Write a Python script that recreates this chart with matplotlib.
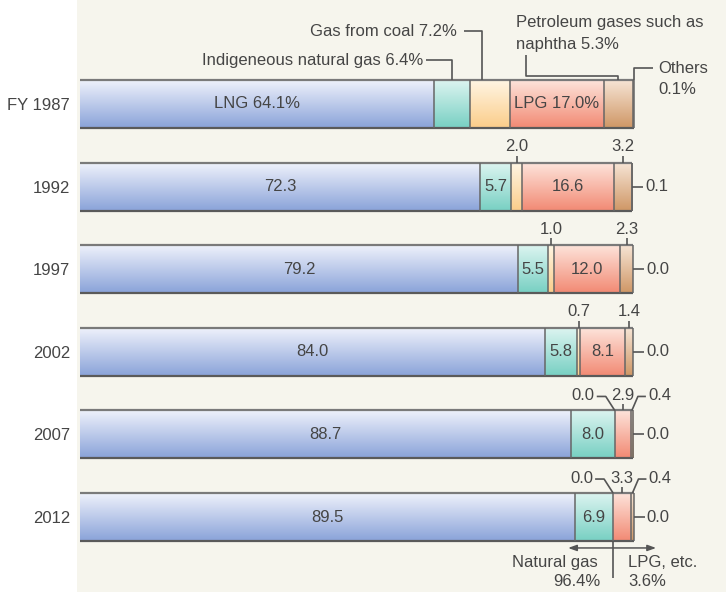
import numpy as np
import matplotlib
matplotlib.use('Agg')
import matplotlib.pyplot as plt
from matplotlib.colors import to_rgba

# ---- data (share of city gas feedstock, %) ----
years = ['FY 1987', '1992', '1997', '2002', '2007', '2012']
lng = [64.1, 72.3, 79.2, 84.0, 88.7, 89.5]
indigenous = [6.4, 5.7, 5.5, 5.8, 8.0, 6.9]
coal_gas = [7.2, 2.0, 1.0, 0.7, 0.0, 0.0]
lpg = [17.0, 16.6, 12.0, 8.1, 2.9, 3.3]
naphtha = [5.3, 3.2, 2.3, 1.4, 0.4, 0.4]
others = [0.1, 0.1, 0.0, 0.0, 0.0, 0.0]

series = [lng, indigenous, coal_gas, lpg, naphtha, others]
# gradient colours (top, bottom) per segment
grad = [('#eef1fb', '#8aa3d9'), ('#dcf4f0', '#78d0c3'), ('#fff5e3', '#fbcd8a'),
        ('#fde3da', '#f28a74'), ('#f6e4d4', '#cf9766'), ('#f0d6c0', '#c9926a')]

plt.rcParams['font.family'] = ['Liberation Sans', 'DejaVu Sans']
TXT = '#454545'
LN = '#555555'
FS = 12

fig = plt.figure(figsize=(7.26, 5.92), dpi=100)
ax = fig.add_axes([77 / 726, 0, 649 / 726, 1])
ax.set_facecolor('#f6f5ed')

H = 0.58
PX = 1 / 5.53    # one pixel in x data units
PY = 1 / 82.6    # one pixel in y data units
y = np.arange(len(years))
data = np.array(series)
cum = np.cumsum(data, axis=0)
left = np.vstack([np.zeros(len(years)), cum[:-1]])
total = cum[-1]


def vgrad(c0, c1, n=64):
    a = np.array(to_rgba(c0))
    b = np.array(to_rgba(c1))
    t = np.linspace(0, 1, n)[:, None]
    return (a * (1 - t) + b * t)[:, None, :]


# bars with vertical gradient
for k, vals in enumerate(series):
    for i, v in enumerate(vals):
        if v <= 0:
            continue
        l0 = left[k, i]
        ax.imshow(vgrad(*grad[k]), extent=(l0, l0 + v, y[i] + H / 2, y[i] - H / 2),
                  aspect='auto', interpolation='bilinear', zorder=2)

# outlines
for i in range(len(years)):
    ax.hlines(y[i] - H / 2, 0, total[i], color='#7a7a7a', lw=1.6, zorder=3)
    ax.hlines(y[i] + H / 2, 0, total[i], color='#5a5a5a', lw=1.6, zorder=3)
    bounds = [cum[k, i] for k in range(len(series)) if data[k, i] > 0]
    ax.vlines(bounds, y[i] - H / 2, y[i] + H / 2, color='#666666', lw=1.1, zorder=3)

kw = dict(color=TXT, fontsize=FS, zorder=5)
lkw = dict(color=LN, lw=1.2, zorder=4, solid_capstyle='butt')

# labels inside the bars
for i in range(len(years)):
    lab = f'LNG {lng[i]:.1f}%' if i == 0 else f'{lng[i]:.1f}'
    ax.text(lng[i] / 2, y[i], lab, ha='center', va='center', **kw)
    if i >= 1:
        ax.text(left[1, i] + indigenous[i] / 2, y[i], f'{indigenous[i]:.1f}',
                ha='center', va='center', **kw)
    if i <= 3:
        lab = f'LPG {lpg[i]:.1f}%' if i == 0 else f'{lpg[i]:.1f}'
        ax.text(left[3, i] + lpg[i] / 2, y[i], lab, ha='center', va='center', **kw)

# FY 1987 callouts
yt = y[0] - H / 2
xi = left[1, 0] + indigenous[0] / 2
yl = yt - 20 * PY
ax.plot([xi, xi, xi - 26 * PX], [yt, yl, yl], **lkw)
ax.text(xi - 29 * PX, yl, f'Indigeneous natural gas {indigenous[0]:.1f}%',
        ha='right', va='center', **kw)

xc = left[2, 0] + coal_gas[0] * 0.3
yl = yt - 49 * PY
ax.plot([xc, xc, xc - 18 * PX], [yt, yl, yl], **lkw)
ax.text(xc - 25 * PX, yl, f'Gas from coal {coal_gas[0]:.1f}%', ha='right', va='center', **kw)

xn = left[4, 0] + naphtha[0] / 2
x2 = xn - 92 * PX
ax.plot([xn, xn, x2, x2], [yt, yt - 4 * PY, yt - 4 * PY, yt - 25 * PY], **lkw)
ax.text(x2 - 10 * PX, yt - 58 * PY, 'Petroleum gases such as', ha='left', va='center', **kw)
ax.text(x2 - 10 * PX, yt - 36 * PY, f'naphtha {naphtha[0]:.1f}%', ha='left', va='center', **kw)

xo = total[0]
ax.plot([xo, xo, xo + 19 * PX], [yt, yt - 12 * PY, yt - 12 * PY], **lkw)
ax.text(xo + 25 * PX, yt - 12 * PY, 'Others', ha='left', va='center', **kw)
ax.text(xo + 25 * PX, yt + 9 * PY, f'{others[0]:.1f}%', ha='left', va='center', **kw)

# other years: small values above and to the right
for i in range(1, len(years)):
    yt = y[i] - H / 2
    if i <= 3:
        for k, vals in ((2, coal_gas), (4, naphtha)):
            xm = left[k, i] + vals[i] / 2
            ax.plot([xm, xm], [yt, yt - 7 * PY], **lkw)
            ax.text(xm, yt - 16 * PY, f'{vals[i]:.1f}', ha='center', va='center', **kw)
    else:
        xc = left[2, i]
        ax.plot([xc, xc - 9 * PX, xc - 18 * PX], [yt, yt - 14 * PY, yt - 14 * PY], **lkw)
        ax.text(xc - 20 * PX, yt - 15 * PY, f'{coal_gas[i]:.1f}', ha='right', va='center', **kw)
        xm = left[3, i] + lpg[i] / 2
        ax.plot([xm, xm], [yt, yt - 6 * PY], **lkw)
        ax.text(xm, yt - 15 * PY, f'{lpg[i]:.1f}', ha='center', va='center', **kw)
        xn = left[4, i] + naphtha[i] / 2
        ax.plot([xn, xn + 6 * PX, xn + 14 * PX], [yt, yt - 14 * PY, yt - 14 * PY], **lkw)
        ax.text(xn + 16 * PX, yt - 15 * PY, f'{naphtha[i]:.1f}', ha='left', va='center', **kw)
    ax.plot([total[i], total[i] + 11 * PX], [y[i], y[i]], **lkw)
    ax.text(total[i] + 13 * PX, y[i], f'{others[i]:.1f}', ha='left', va='center', **kw)

# natural gas vs LPG split under the last bar
b = lng[-1] + indigenous[-1]
yb = y[-1] + H / 2
ax.plot([b, b], [yb, yb + 37 * PY], **lkw)
ax.annotate('', xy=(b - 45 * PX, yb + 7 * PY), xytext=(b + 43 * PX, yb + 7 * PY),
            arrowprops=dict(arrowstyle='<|-|>,head_length=0.5,head_width=0.18',
                            color=LN, lw=1.1, shrinkA=0, shrinkB=0), zorder=4)
ax.text(b - 15 * PX, yb + 22 * PY, 'Natural gas', ha='right', va='center', **kw)
ax.text(b - 13 * PX, yb + 41 * PY, f'{b:.1f}%', ha='right', va='center', **kw)
ax.text(b + 15 * PX, yb + 22 * PY, 'LPG, etc.', ha='left', va='center', **kw)
ax.text(b + 15 * PX, yb + 41 * PY, f'{100 - b:.1f}%', ha='left', va='center', **kw)

# axes
ax.set_xlim(-3 * PX, 646 * PX)
ax.set_ylim(y[0] + 488 * PY, y[0] - 104 * PY)
ax.set_yticks(y, years)
ax.tick_params(axis='y', length=0, pad=5, labelsize=FS, labelcolor=TXT)
ax.set_xticks([])
for s in ax.spines.values():
    s.set_visible(False)

fig.savefig('out.png', dpi=100)
